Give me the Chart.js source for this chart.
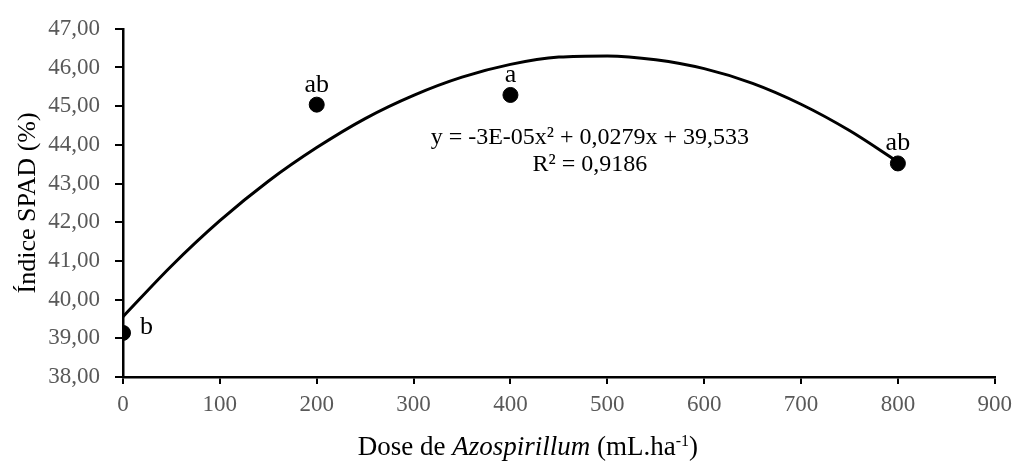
<!DOCTYPE html>
<html>
<head>
<meta charset="utf-8">
<script src="https://cdn.jsdelivr.net/npm/chart.js@4"></script>
<style>
  body { margin: 0; background: #fff; }
  #wrap { width: 1019px; height: 462px; }
</style>
</head>
<body>
<div id="wrap"><canvas id="myChart" width="1019" height="462"></canvas></div>
<script>
//Dose de Azospirillum vs Indice SPAD, means with letters + quadratic trend

var doses = [0, 200, 400, 800];
var spad = [39.14, 45.04, 45.29, 43.52];
var letters = ["b", "ab", "a", "ab"];

//trend curve, read every 50 mL
var curveX = [0, 50, 100, 150, 200, 250, 300, 350, 400, 450, 500, 550, 600, 650, 700, 750, 800];
var curveY = [39.56, 40.87, 42.04, 43.06, 43.93, 44.68, 45.28, 45.75, 46.08, 46.27, 46.30, 46.20, 45.97, 45.59, 45.05, 44.37, 43.56];

var xTicks = [0, 100, 200, 300, 400, 500, 600, 700, 800, 900];
var yMin = 38, yMax = 47;

var eqLine1 = "y = -3E-05x\u00B2 + 0,0279x + 39,533";
var eqLine2 = "R\u00B2 = 0,9186";

var serif = "'Liberation Serif', 'Times New Roman', serif";
var tickGray = "#595959";

function toPoints(xs, ys) {
    var pts = [];
    for (var i = 0; i < xs.length; i++) pts.push({ x: xs[i], y: ys[i] });
    return pts;
}

//letters above points, equation text and both axis titles
var textPlugin = {
    id: "textPlugin",
    afterDraw: function (chart) {
        var ctx = chart.ctx;
        var xs = chart.scales.x, ys = chart.scales.y;
        var meta = chart.getDatasetMeta(1);
        ctx.save();
        ctx.fillStyle = "#000";
        ctx.font = "26px " + serif;
        ctx.textBaseline = "alphabetic";
        meta.data.forEach(function (pt, i) {
            if (i == 0) {
                ctx.textAlign = "left";
                ctx.fillText(letters[i], pt.x + 17, pt.y + 1);
            } else {
                ctx.textAlign = "center";
                ctx.fillText(letters[i], pt.x, pt.y - 13);
            }
        });

        //equation box
        var ex = xs.getPixelForValue(482);
        ctx.textAlign = "center";
        ctx.textBaseline = "middle";
        ctx.font = "24px " + serif;
        ctx.fillText(eqLine1, ex, ys.getPixelForValue(44.18));
        ctx.fillText(eqLine2, ex, ys.getPixelForValue(43.49));

        //y title
        ctx.save();
        ctx.translate(28, (chart.chartArea.top + chart.chartArea.bottom) / 2);
        ctx.rotate(-Math.PI / 2);
        ctx.font = "26px " + serif;
        ctx.fillText("\u00CDndice SPAD (%)", 0, 0);
        ctx.restore();

        //x title with italic genus and superscript
        var parts = [
            { t: "Dose de ", f: "27px " + serif, dy: 0 },
            { t: "Azospirillum", f: "italic 27px " + serif, dy: 0 },
            { t: " (mL.ha", f: "27px " + serif, dy: 0 },
            { t: "-1", f: "16px " + serif, dy: -9 },
            { t: ")", f: "27px " + serif, dy: 0 }
        ];
        var total = 0;
        parts.forEach(function (p) { ctx.font = p.f; total += ctx.measureText(p.t).width; });
        var cx = xs.getPixelForValue(418) - total / 2;
        ctx.textAlign = "left";
        ctx.textBaseline = "alphabetic";
        parts.forEach(function (p) {
            ctx.font = p.f;
            ctx.fillText(p.t, cx, 455 + p.dy);
            cx += ctx.measureText(p.t).width;
        });
        ctx.restore();
    }
};

var axisLine = { color: "#000", width: 2.5 };

var infoChart = new Chart("myChart", {
    type: "scatter",
    data: {
        datasets: [{
            type: "line",
            data: toPoints(curveX, curveY),
            borderColor: "#000",
            borderWidth: 3,
            pointRadius: 0,
            cubicInterpolationMode: "monotone",
            fill: false,
            order: 2
        }, {
            data: toPoints(doses, spad),
            backgroundColor: "#000",
            borderColor: "#000",
            pointRadius: 7.5,
            pointHoverRadius: 7.5,
            order: 1
        }]
    },
    options: {
        responsive: false,
        animation: false,
        events: [],
        layout: { padding: { top: 22, right: 24, left: 0, bottom: 0 } },
        plugins: { legend: { display: false }, tooltip: { enabled: false } },
        scales: {
            x: {
                type: "linear",
                min: 0,
                max: 900,
                afterFit: function (s) { s.height = 85; },
                afterBuildTicks: function (s) { s.ticks = xTicks.map(function (v) { return { value: v }; }); },
                border: axisLine,
                grid: { drawOnChartArea: false, drawTicks: true, tickLength: 7, color: "#000", lineWidth: 2 },
                ticks: { color: tickGray, font: { family: serif, size: 23 }, padding: 7 }
            },
            y: {
                min: yMin,
                max: yMax,
                afterFit: function (s) { s.width = 123; },
                border: axisLine,
                grid: { drawOnChartArea: false, drawTicks: true, tickLength: 8, color: "#000", lineWidth: 2 },
                ticks: {
                    stepSize: 1,
                    color: tickGray,
                    font: { family: serif, size: 23 },
                    padding: 15,
                    callback: function (v) { return v.toFixed(2).replace(".", ","); }
                }
            }
        }
    },
    plugins: [textPlugin]
});
</script>
</body>
</html>
